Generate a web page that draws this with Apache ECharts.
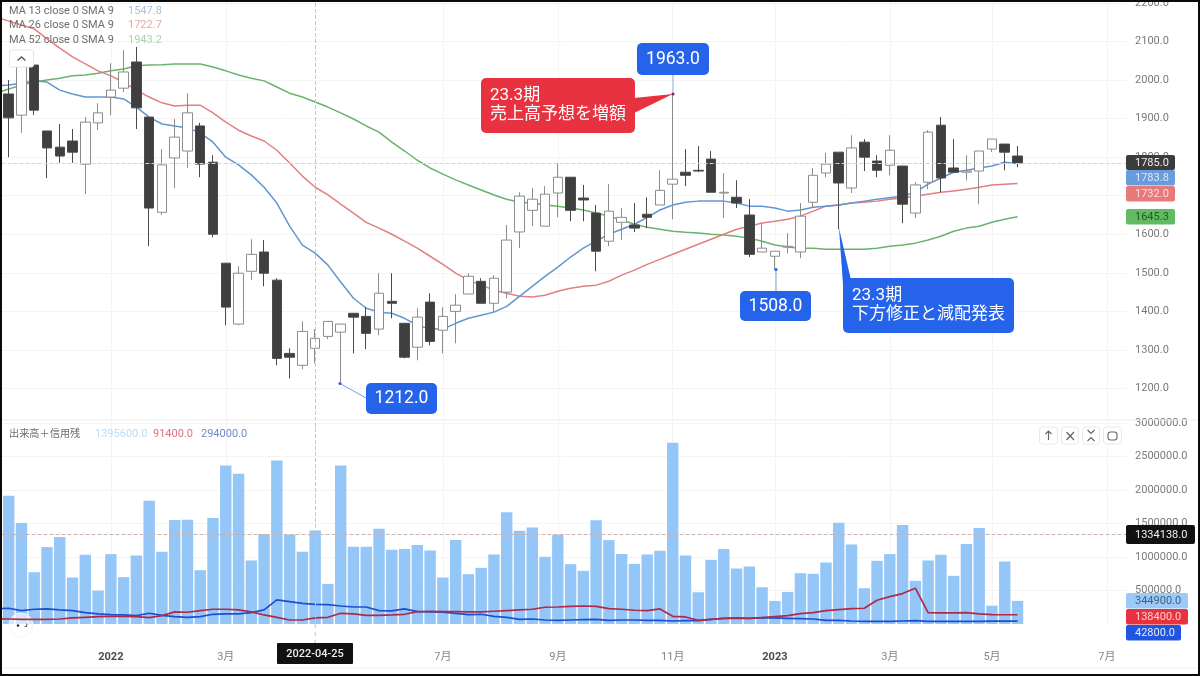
<!DOCTYPE html>
<html><head><meta charset="utf-8">
<style>html,body{margin:0;padding:0;background:#fff}#c{width:1200px;height:676px}</style>
<script src="https://cdn.jsdelivr.net/npm/echarts@6/dist/echarts.min.js"></script>
</head><body><div id="c"></div>
<script>
const firstWeek = '2021-11-01';
const weekCount = 89;
const tickLabels = {'2022-01-03':'2022','2022-03-07':'3月','2022-07-04':'7月','2022-09-05':'9月','2022-11-07':'11月','2023-01-02':'2023','2023-03-06':'3月','2023-05-01':'5月','2023-07-03':'7月'};
const priceTicks = {min:1100,max:2200,interval:100};
const volumeTicks = {min:0,max:3000000,interval:500000};
const opens = [1930,1964,1909,2039,1868,1826,1842,1782,1889,1956,1979,
2047,1904,1657,1798,1816,1881,1787,1525,1367,1504,
1554,1481,1291,1260,1304,1335,1346,1395,1387,1354,
1426,1369,1307,1424,1351,1400,1445,1478,1421,1450,
1606,1662,1621,1707,1748,1694,1655,1582,1631,1624,
1652,1676,1730,1761,1766,1795,1707,1696,1650,1554,
1543,1567,1554,1683,1759,1813,1720,1839,1790,1779,
1777,1655,1735,1883,1772,1761,1764,1821,1834,1803];
const closes = [1964,1902,2037,1922,1824,1803,1813,1891,1915,1974,2021,
1928,1668,1780,1852,1915,1782,1600,1411,1499,1548,
1499,1278,1281,1348,1330,1374,1367,1385,1343,1447,
1421,1281,1385,1322,1387,1416,1491,1421,1486,1585,
1699,1691,1704,1748,1662,1689,1556,1660,1644,1616,
1644,1714,1743,1753,1764,1709,1709,1681,1548,1564,
1556,1569,1647,1753,1782,1733,1824,1800,1766,1818,
1678,1728,1865,1746,1761,1764,1816,1847,1813,1785];
const lows = [1900,1800,1863,1909,1746,1785,1785,1704,1870,1909,1969,
1873,1569,1650,1720,1772,1748,1592,1364,1364,1481,
1465,1260,1226,1250,1265,1328,1212,1291,1302,1338,
1382,1278,1273,1312,1291,1317,1445,1421,1398,1434,
1564,1621,1621,1644,1634,1634,1504,1569,1585,1606,
1616,1676,1639,1725,1761,1709,1642,1668,1541,1554,
1508,1551,1538,1668,1748,1613,1707,1764,1748,1753,
1629,1642,1717,1709,1761,1740,1678,1813,1766,1774];
const highs = [1990,2000,2065,2052,1868,1886,1873,1904,1940,2044,2078,
2086,1904,1821,1899,1966,1889,1805,1525,1517,1587,
1585,1486,1304,1374,1354,1374,1367,1395,1411,1499,
1499,1369,1408,1447,1411,1445,1499,1486,1494,1624,
1709,1720,1725,1785,1748,1728,1676,1730,1668,1681,
1696,1766,1963,1821,1829,1816,1759,1740,1691,1629,
1556,1603,1681,1772,1811,1813,1857,1847,1805,1857,
1777,1735,1870,1904,1847,1805,1816,1847,1834,1829];
const ma13 = [1985,1987,1992,1998,1995,1974,1964,1956,1956,1956,1951,
1930,1904,1886,1881,1876,1863,1839,1800,1780,1754,
1722,1681,1621,1572,1551,1520,1476,1434,1408,1398,
1395,1382,1364,1354,1354,1369,1382,1390,1398,1413,
1439,1465,1491,1515,1541,1564,1582,1600,1613,1626,
1644,1663,1676,1683,1686,1686,1686,1681,1673,1673,
1668,1660,1663,1670,1673,1676,1681,1686,1691,1695,
1699,1709,1730,1746,1761,1766,1772,1777,1787,1783.8];
const ma26 = [2164,2153,2143,2133,2107,2083,2060,2042,2024,2011,1995,
1974,1956,1941,1933,1935,1935,1915,1891,1870,1855,
1842,1818,1785,1751,1722,1702,1678,1655,1631,1616,
1600,1582,1564,1543,1522,1499,1481,1468,1455,1447,
1439,1437,1442,1452,1460,1465,1468,1478,1494,1507,
1522,1535,1548,1561,1574,1587,1600,1613,1621,1629,
1634,1639,1647,1660,1673,1676,1681,1683,1686,1691,
1694,1699,1704,1709,1712,1717,1722,1728,1730,1732];
const ma52 = [1966,1977,1987,1995,2000,2005,2011,2013,2018,2024,2029,
2037,2039,2040,2042,2042,2042,2034,2024,2013,2005,
1998,1982,1966,1956,1943,1930,1915,1899,1881,1865,
1839,1816,1792,1772,1756,1741,1728,1715,1702,1691,
1683,1681,1676,1673,1668,1663,1655,1647,1637,1626,
1618,1613,1608,1605,1603,1600,1598,1595,1590,1582,
1572,1567,1564,1564,1561,1561,1561,1561,1564,1569,
1572,1577,1585,1595,1608,1616,1621,1631,1639,1645.3];
const volumes = [1500000,1916000,1507000,773000,1148000,1297000,694000,1033000,499000,1043000,699000,
1023000,1841000,1078000,1552000,1557000,803000,1582000,2365000,2241000,948000,
1342000,2440000,1337000,1078000,1395600,599000,2365000,1153000,1153000,1422000,
1108000,1118000,1178000,1098000,694000,1252000,744000,838000,1038000,1667000,
1392000,1442000,1003000,1332000,893000,793000,1547000,1252000,1043000,898000,
1038000,1093000,2705000,1023000,474000,958000,1118000,828000,858000,549000,
344000,479000,758000,749000,918000,1512000,1188000,534000,943000,1043000,
1477000,644000,948000,1033000,719000,1193000,1432000,274000,933000,344900];
const marginSell = [225000,235000,200000,220000,225000,210000,200000,170000,150000,140000,135000,
125000,160000,130000,110000,100000,110000,145000,150000,150000,170000,
210000,359000,334000,309000,294000,289000,269000,254000,254000,200000,
195000,225000,185000,180000,175000,160000,140000,145000,115000,100000,
70000,75000,60000,55000,60000,65000,70000,55000,60000,60000,
55000,55000,45000,50000,50000,70000,85000,85000,85000,95000,
90000,85000,80000,75000,55000,55000,45000,40000,40000,40000,
45000,50000,40000,40000,40000,40000,40000,42000,42000,42800];
const marginBuy = [78000,75000,70000,70000,70000,75000,90000,100000,110000,115000,115000,
110000,95000,125000,180000,175000,200000,220000,220000,210000,180000,
135000,100000,60000,60000,91400,100000,160000,150000,130000,130000,
135000,145000,185000,190000,185000,185000,180000,180000,190000,200000,
210000,220000,250000,254000,264000,269000,264000,230000,220000,205000,
200000,225000,115000,105000,55000,70000,85000,90000,85000,95000,
110000,125000,155000,170000,200000,215000,230000,235000,354000,409000,
454000,534000,170000,165000,165000,170000,150000,140000,138000,138400];
const crosshairPrice = 1785, crosshairVolume = 1334138, crosshairWeek = '2022-04-25';

const categories = [];
for (let i = 0, t = Date.parse(firstWeek + 'T00:00:00Z'); i < weekCount; i++, t += 7 * 864e5)
  categories.push(new Date(t).toISOString().slice(0, 10));
const candles = opens.map((o, i) => [o, closes[i], lows[i], highs[i]]);

const FONT = 'Roboto, "Noto Sans CJK JP", sans-serif';
const isTick = (i, v) => tickLabels[v] !== undefined;
const gridColor = '#f4f4f4';
const xAxisBase = {
  type: 'category', data: categories, axisLine: {show: false}, axisTick: {show: false},
  splitLine: {show: true, alignWithLabel: true, interval: isTick, lineStyle: {color: gridColor, width: 1}}
};
const yAxisBase = {
  type: 'value', position: 'right', axisLine: {show: false}, axisTick: {show: false},
  splitLine: {show: true, showMinLine: false, showMaxLine: true, lineStyle: {color: gridColor, width: 1}},
  axisLabel: {color: '#7a7a7a', fontSize: 11, fontFamily: FONT, margin: 9, showMinLabel: false, formatter: v => v.toFixed(1)}
};
const maLine = (name, data, color) => ({name, type: 'line', data, xAxisIndex: 0, yAxisIndex: 0, symbol: 'none', z: 2, silent: true, lineStyle: {color, width: 1.5}});
const volLine = (name, data, color) => ({name, type: 'line', data, xAxisIndex: 1, yAxisIndex: 1, symbol: 'none', z: 4, silent: true, lineStyle: {color, width: 1.7}});
const dash = (color) => ({type: 'dashed', color, width: 1});

function txt(x, y, text, fill, size, extra) {
  return {type: 'text', x, y, z: 60, silent: true, style: {text, fill, font: (extra && extra.weight ? extra.weight + ' ' : '') + size + 'px ' + FONT, textAlign: (extra && extra.align) || 'left', textVerticalAlign: 'middle'}};
}
function badge(x, y, w, h, fill, text, color) {
  return [
    {type: 'rect', z: 55, silent: true, shape: {x, y, width: w, height: h, r: 2}, style: {fill}},
    txt(x + 9, y + h / 2 + 0.5, text, color, 11)
  ];
}
function box(x, y, w, h, fill, lines, size, opt) {
  const o = opt || {};
  const out = [{type: 'rect', z: 50, silent: true, shape: {x, y, width: w, height: h, r: 5}, style: {fill}}];
  if (o.center) out.push(txt(x + w / 2, y + h / 2 + 0.5, lines[0], '#fff', size, {align: 'center'}));
  else lines.forEach((l, i) => out.push(txt(x + 9, y + 18 + i * 19, l, '#fff', size)));
  return out;
}
const poly = (points, fill) => ({type: 'polygon', z: 49, silent: true, shape: {points}, style: {fill}});
const seg = (x1, y1, x2, y2, stroke, w, d) => ({type: 'line', z: 48, silent: true, shape: {x1, y1, x2, y2}, style: {stroke, lineWidth: w || 1, lineDash: d}});
const glyph = (x1, y1, x2, y2) => Object.assign(seg(x1, y1, x2, y2, '#666', 1.2), {z: 52});
const chev = (points) => ({type: 'polyline', z: 52, silent: true, shape: {points}, style: {stroke: '#666', lineWidth: 1.2, fill: 'none'}});
const dot = (cx, cy, fill) => ({type: 'circle', z: 49, silent: true, shape: {cx, cy, r: 1.6}, style: {fill}});
const iconBtn = (x, w) => ({type: 'rect', z: 50, silent: true, shape: {x, y: 427, width: w, height: 17, r: 3}, style: {fill: '#fff', stroke: '#e8e8e8', lineWidth: 1}});

const BLUE = '#2563eb', RED = '#e8323f';
const graphics = [
  seg(2, 420, 1198, 420, '#ececec', 1),
  seg(2, 668, 1198, 668, '#f0f0f0', 1),
  seg(315.2, 624, 315.2, 643, '#c4c4c4', 1, [4, 4]),
  {type: 'rect', z: 50, silent: true, shape: {x: 277, y: 643, width: 76, height: 21, r: 1}, style: {fill: '#111'}},
  txt(315, 654, '2022-04-25', '#eee', 11, {align: 'center', weight: 500}),

  // legends
  txt(9, 11, 'MA 13 close 0 SMA 9', '#6e6e6e', 11), txt(128, 11, '1547.8', '#a9c0dc', 11),
  txt(9, 25.5, 'MA 26 close 0 SMA 9', '#6e6e6e', 11), txt(128, 25.5, '1722.7', '#e9a6a6', 11),
  txt(9, 40, 'MA 52 close 0 SMA 9', '#6e6e6e', 11), txt(128, 40, '1943.2', '#a9d3a9', 11),
  {type: 'rect', z: 50, silent: true, shape: {x: 9.5, y: 50, width: 24, height: 17, r: 2}, style: {fill: '#fff', stroke: '#e6e6e6'}},
  {type: 'polyline', z: 51, silent: true, shape: {points: [[17.5, 60.5], [21.5, 57], [25.5, 60.5]]}, style: {stroke: '#555', lineWidth: 1.4, fill: 'none'}},
  txt(9, 434, '出来高＋信用残', '#6e6e6e', 10.2),
  txt(95, 434, '1395600.0', '#bcdcf8', 11), txt(153, 434, '91400.0', '#e0707f', 11), txt(201, 434, '294000.0', '#6d88cc', 11),

  // pane buttons
  iconBtn(1039.5, 18), iconBtn(1061.5, 17), iconBtn(1082.5, 17), iconBtn(1103.5, 18),
  glyph(1048.5, 431, 1048.5, 440), chev([[1045.5, 434], [1048.5, 431], [1051.5, 434]]),
  glyph(1066.5, 432, 1074, 440), glyph(1074, 432, 1066.5, 440),
  chev([[1087.5, 430], [1091, 433.5], [1094.5, 430]]), chev([[1087.5, 441], [1091, 437.5], [1094.5, 441]]),
  {type: 'rect', z: 51, silent: true, shape: {x: 1108, y: 432, width: 9, height: 8, r: 2.5}, style: {fill: 'none', stroke: '#666', lineWidth: 1.1}},

  // faint logo at bottom left
  {type: 'circle', z: 3, silent: true, shape: {cx: 21, cy: 625, r: 12}, style: {fill: 'rgba(255,255,255,0.6)', stroke: '#f4f4f4'}},
  {type: 'circle', z: 51, silent: true, shape: {cx: 18, cy: 625.5, r: 1.2}, style: {fill: '#222'}},
  chev([[27, 623.5], [26.5, 626.5], [24.5, 626.5]]),

  // callouts
  ...box(637, 43, 72, 32, BLUE, ['1963.0'], 17.5, {center: true}),
  seg(673, 75, 673, 94, '#9aa8e0', 1), dot(673, 94, '#7a2a5a'),
  poly([[634, 98], [673, 94], [634, 113]], RED),
  ...box(481, 78, 154, 55, RED, ['23.3期', '売上高予想を増額'], 17),
  ...box(740, 291, 71, 30, BLUE, ['1508.0'], 17.5, {center: true}),
  seg(776, 269.5, 776, 291, '#7d9be0', 1), dot(776, 269.5, BLUE),
  poly([[839, 228], [851, 280], [843, 285]], BLUE),
  ...box(843, 278, 171, 55, BLUE, ['23.3期', '下方修正と減配発表'], 17),
  ...box(366, 383, 71, 31, BLUE, ['1212.0'], 17.5, {center: true}),
  seg(340, 383.5, 366, 398, '#7d9be0', 1), dot(340, 383.5, BLUE),

  // price badges
  ...badge(1126, 155, 49, 15, '#3c3c3c', '1785.0', '#eeeeee'),
  ...badge(1126, 170, 49, 15.5, '#6a9bdc', '1783.8', '#dbe8fa'),
  ...badge(1126, 186, 49, 15.5, '#e67a7a', '1732.0', '#fbdede'),
  ...badge(1126, 209, 49, 15.5, '#62ba62', '1645.3', '#1f5f1f'),
  ...badge(1126, 525, 69, 19, '#111111', '1334138.0', '#eeeeee'),
  ...badge(1126, 593, 62, 15.5, '#9cc9f5', '344900.0', '#3a6484'),
  ...badge(1126, 609, 62, 15.5, '#e8323f', '138400.0', '#fbd0d0'),
  ...badge(1126, 625, 55, 15.5, '#1f55e0', '42800.0', '#e4ebff'),

  // outer frame
  {type: 'rect', z: 80, silent: true, shape: {x: 0, y: 0, width: 1200, height: 2}, style: {fill: '#0a0a0a'}},
  {type: 'rect', z: 80, silent: true, shape: {x: 0, y: 674, width: 1200, height: 2}, style: {fill: '#0a0a0a'}},
  {type: 'rect', z: 80, silent: true, shape: {x: 0, y: 0, width: 2, height: 676}, style: {fill: '#0a0a0a'}},
  {type: 'rect', z: 80, silent: true, shape: {x: 1198, y: 0, width: 2, height: 676}, style: {fill: '#0a0a0a'}}
];

const chart = echarts.init(document.getElementById('c'), null, {width: 1200, height: 676});
chart.setOption({
  animation: false,
  backgroundColor: '#ffffff',
  grid: [
    {left: -10.47, top: 3, width: 1136.53, height: 424, outerBoundsMode: 'none'},
    {left: -10.47, top: 423, width: 1136.53, height: 201, outerBoundsMode: 'none'}
  ],
  xAxis: [
    Object.assign({gridIndex: 0, axisLabel: {show: false}}, xAxisBase),
    Object.assign({gridIndex: 1}, xAxisBase, {
      axisLabel: {
        show: true, interval: isTick, margin: 28, fontSize: 11, fontFamily: FONT, color: '#868686',
        formatter: v => {
          const t = tickLabels[v];
          return /^\d{4}$/.test(t) ? '{y|' + t + '}' : t;
        },
        rich: {y: {fontWeight: 700, color: '#4a4a4a', fontSize: 11, fontFamily: FONT}}
      }
    })
  ],
  yAxis: [
    Object.assign({gridIndex: 0}, yAxisBase, priceTicks),
    Object.assign({gridIndex: 1}, yAxisBase, volumeTicks)
  ],
  graphic: {elements: graphics},
  series: [
    maLine('MA 52', ma52, '#6ab36a'),
    maLine('MA 26', ma26, '#e27f7f'),
    maLine('MA 13', ma13, '#6296d2'),
    {
      name: 'price', type: 'candlestick', data: candles, xAxisIndex: 0, yAxisIndex: 0, barWidth: 10, z: 3, silent: true,
      itemStyle: {color: '#ffffff', color0: '#3f3f3f', borderColor: '#8c8c8c', borderColor0: '#4a4a4a', borderWidth: 1},
      markLine: {
        silent: true, symbol: 'none', animation: false, label: {show: false},
        data: [
          {xAxis: crosshairWeek, lineStyle: dash('#c4c4c4')},
          {yAxis: crosshairPrice, lineStyle: dash('#d4d4d4')}
        ]
      }
    },
    {
      name: 'volume', type: 'bar', data: volumes, xAxisIndex: 1, yAxisIndex: 1, barWidth: 11.4, z: 2, silent: true,
      itemStyle: {color: '#94c6f8'},
      markLine: {
        silent: true, symbol: 'none', animation: false, label: {show: false},
        data: [
          {xAxis: crosshairWeek, lineStyle: dash('#c4c4c4')},
          {yAxis: crosshairVolume, lineStyle: dash('#c9b5ae')}
        ]
      }
    },
    volLine('margin sell', marginSell, '#1f4fd0'),
    volLine('margin buy', marginBuy, '#b02a48')
  ]
});
</script></body></html>
